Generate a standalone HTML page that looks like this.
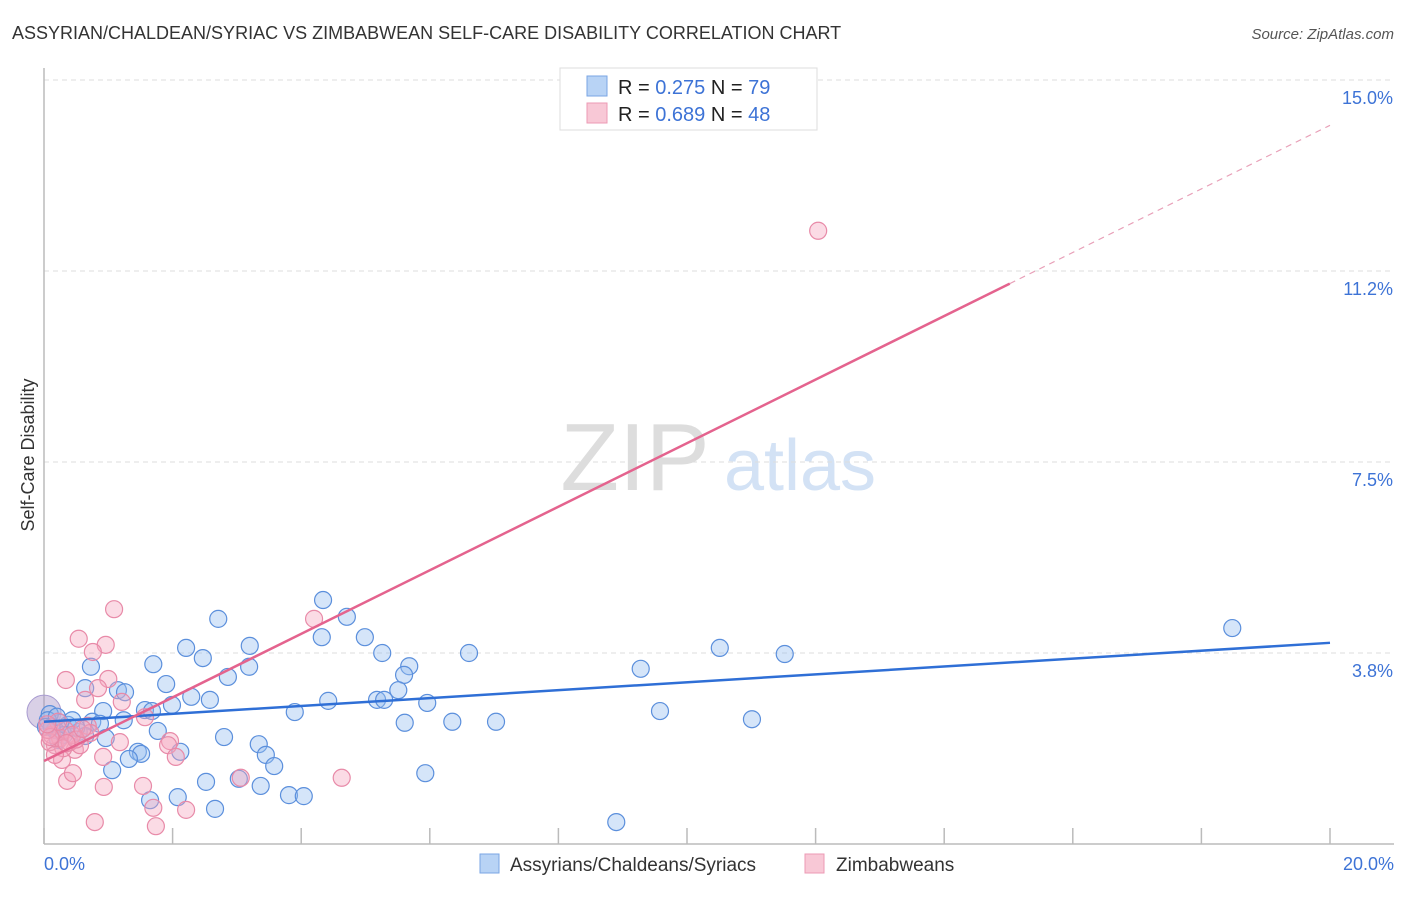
<!DOCTYPE html>
<html><head><meta charset="utf-8"><style>
body{margin:0;background:#fff;font-family:"Liberation Sans",sans-serif}
svg text{font-family:"Liberation Sans",sans-serif}
</style></head><body>
<svg id="chart" width="1406" height="892" xmlns="http://www.w3.org/2000/svg">
<text x="12" y="39" font-size="18" fill="#333">ASSYRIAN/CHALDEAN/SYRIAC VS ZIMBABWEAN SELF-CARE DISABILITY CORRELATION CHART</text>
<text x="1394" y="39" font-size="15" fill="#555" text-anchor="end" font-style="italic">Source: ZipAtlas.com</text>
<g>
<text x="635" y="490" font-size="96" fill="#ddd" font-family="Liberation Serif,serif" text-anchor="middle">ZIP</text>
<text x="800" y="490" font-size="72" fill="#d3e2f5" text-anchor="middle">atlas</text>
</g>
<g id="grid"></g>
<g id="axes"></g>
<g id="marks"></g>
<text transform="translate(34,455) rotate(-90)" font-size="18" fill="#333" text-anchor="middle">Self-Care Disability</text>
<g>
<rect x="560" y="68" width="257" height="62" fill="#fff" stroke="#ddd"/>
<rect x="587" y="76" width="20" height="20" fill="#b8d3f5" stroke="#7aa6e4"/>
<rect x="587" y="103" width="20" height="20" fill="#f8c8d6" stroke="#ec9ab4"/>
<text x="618" y="94" font-size="20" fill="#222">R = <tspan fill="#3d73d6">0.275</tspan>   N = <tspan fill="#3d73d6">79</tspan></text>
<text x="618" y="121" font-size="20" fill="#222">R = <tspan fill="#3d73d6">0.689</tspan>   N = <tspan fill="#3d73d6">48</tspan></text>
</g>
<g>
<rect x="480" y="854" width="19" height="19" fill="#b8d3f5" stroke="#7aa6e4"/>
<text x="510" y="871" font-size="19" fill="#333">Assyrians/Chaldeans/Syriacs</text>
<rect x="805" y="854" width="19" height="19" fill="#f8c8d6" stroke="#ec9ab4"/>
<text x="836" y="871" font-size="19" fill="#333">Zimbabweans</text>
</g>
</svg>
<script>
const yTicks=[3.75,7.5,11.25,15];
const yTickLabels=["3.8%","7.5%","11.2%","15.0%"];
const xTickVals=[0,2,4,6,8,10,12,14,16,18,20];
const xEndLabels=["0.0%","20.0%"];
const blueX=[18.48,4.34,4.71,2.71,3.20,4.32,4.99,2.21,5.26,6.61,10.51,11.52,1.70,2.47,0.73,3.19,5.68,9.28,5.60,2.86,1.90,0.64,1.15,1.26,5.51,2.29,2.58,4.42,5.18,5.29,5.96,1.99,1.57,1.68,0.92,3.90,9.58,11.01,1.24,5.61,6.35,7.03,0.75,0.87,0.25,0.37,1.77,0.54,0.96,2.80,3.34,3.45,2.12,1.46,1.51,1.32,3.58,1.06,5.93,2.52,3.03,3.37,1.65,2.08,3.81,4.04,2.66,8.90,0.09,0.17,0.31,0.06,0.44,0.22,0.64,0.12,0.50,0.20,0.03];
const blueY=[4.24,4.79,4.46,4.42,3.89,4.06,4.06,3.85,3.75,3.75,3.85,3.73,3.53,3.65,3.48,3.48,3.49,3.44,3.32,3.28,3.14,3.06,3.02,2.98,3.02,2.89,2.83,2.81,2.83,2.83,2.77,2.73,2.63,2.61,2.61,2.59,2.61,2.45,2.43,2.38,2.40,2.40,2.40,2.36,2.38,2.34,2.22,2.20,2.08,2.10,1.96,1.75,1.81,1.81,1.77,1.67,1.53,1.45,1.39,1.22,1.28,1.14,0.86,0.92,0.96,0.94,0.69,0.43,2.55,2.24,2.14,2.43,2.43,2.04,2.12,2.30,2.28,2.50,2.30];
const pinkX=[12.04,1.09,0.54,0.96,0.76,4.20,0.34,1.00,0.84,0.64,1.21,1.57,1.96,1.93,2.05,1.18,0.92,0.28,0.48,3.06,4.63,1.54,0.93,0.36,0.45,0.79,1.70,1.74,2.21,0.17,0.25,0.12,0.09,0.40,0.56,0.33,0.22,0.68,0.44,0.30,0.06,0.17,0.72,0.50,0.10,0.35,0.60,0.05];
const pinkY=[12.04,4.61,4.03,3.91,3.77,4.42,3.22,3.24,3.06,2.83,2.79,2.49,2.02,1.94,1.71,2.00,1.71,1.65,1.85,1.30,1.30,1.14,1.12,1.24,1.39,0.43,0.71,0.35,0.67,1.94,2.08,2.14,2.00,2.00,1.94,2.24,2.40,2.32,2.14,1.88,2.24,1.75,2.18,2.05,2.10,1.98,2.26,2.35];
const blueTrend=[2.40,3.95];
const pinkTrend=[1.63,0.624];
const NS="http://www.w3.org/2000/svg";
const X0=44,X1=1330,Y0=844,Y15=80;
const xs=v=>X0+(X1-X0)*v/20;
const ys=v=>Y0-(Y0-Y15)*v/15;
function mk(tag,attrs,parent){const e=document.createElementNS(NS,tag);for(const k in attrs)e.setAttribute(k,attrs[k]);document.getElementById(parent).appendChild(e);return e;}
yTicks.forEach((t,i)=>{
 const l=mk('line',{x1:X0,x2:1394,y1:ys(t),y2:ys(t),stroke:'#ddd','stroke-dasharray':'5,4'},'grid');
 
 
 const tx=mk('text',{x:1393,y:ys(t)+24,'font-size':18,fill:'#3d73d6','text-anchor':'end'},'axes');
 tx.textContent=yTickLabels[i];
 
 
});
const ax=mk('line',{x1:X0,x2:X0,y1:68,y2:Y0,stroke:'#bbb','stroke-width':1.5},'axes');


const bx=mk('line',{x1:X0,x2:1394,y1:Y0,y2:Y0,stroke:'#bbb','stroke-width':1.5},'axes');


xTickVals.forEach(v=>{
 const t=mk('line',{x1:xs(v),x2:xs(v),y1:Y0-16,y2:Y0,stroke:'#bbb','stroke-width':1.5},'axes');
 
 
});
[[0,'start',44],[20,'end',1394]].forEach((a,i)=>{
 const t=mk('text',{x:a[2],y:870,'font-size':18,fill:'#3d73d6','text-anchor':a[1]},'axes');
 t.textContent=xEndLabels[i];
 
 
});
const big=mk('circle',{cx:xs(0),cy:ys(2.59),r:17,fill:'rgba(170,150,200,0.45)',stroke:'#a79ad0'},'marks');


blueX.forEach((v,i)=>{
 const c=mk('circle',{cx:xs(v),cy:ys(blueY[i]),r:8.5,fill:'rgba(150,190,240,0.4)',stroke:'#5b8fdc','stroke-width':1.2},'marks');
 
 
});
pinkX.forEach((v,i)=>{
 const c=mk('circle',{cx:xs(v),cy:ys(pinkY[i]),r:8.5,fill:'rgba(245,165,190,0.4)',stroke:'#e88aa8','stroke-width':1.2},'marks');
 
 
});
const bl=mk('line',{x1:xs(0),y1:ys(blueTrend[0]),x2:xs(20),y2:ys(blueTrend[1]),stroke:'#2f6fd6','stroke-width':2.5},'marks');


const pe=15.02;
const pl=mk('line',{x1:xs(0),y1:ys(pinkTrend[0]),x2:xs(pe),y2:ys(pinkTrend[0]+pinkTrend[1]*pe),stroke:'#e4638e','stroke-width':2.5},'marks');


const pd=mk('line',{x1:xs(pe),y1:ys(pinkTrend[0]+pinkTrend[1]*pe),x2:xs(20),y2:ys(pinkTrend[0]+pinkTrend[1]*20),stroke:'#e8a0b8','stroke-width':1.2,'stroke-dasharray':'6,5'},'marks');


</script>
</body></html>
